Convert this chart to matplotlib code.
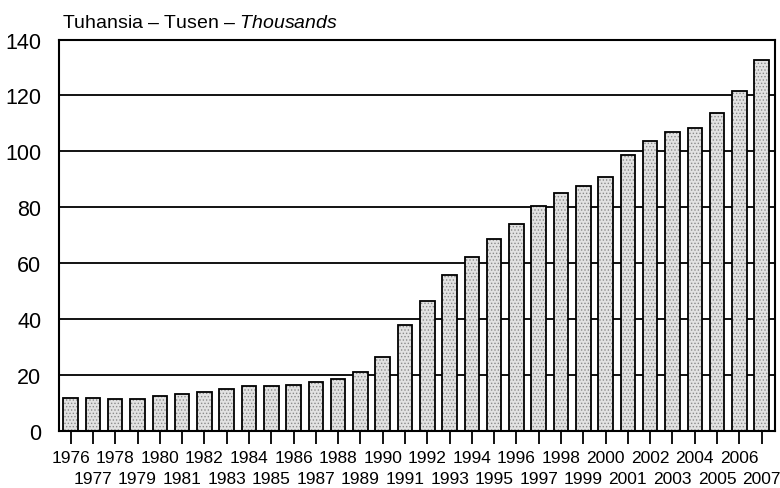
import matplotlib
matplotlib.use("Agg")
import matplotlib.pyplot as plt

# Data
years = list(range(1976, 2008))
values = [11.8, 11.8, 11.4, 11.4, 12.3, 13.2, 13.9, 15.0, 16.1, 16.1, 16.4, 17.5,
          18.5, 20.9, 26.4, 37.8, 46.5, 55.9, 62.2, 68.8, 74.1, 80.4, 85.0, 87.6,
          90.9, 98.6, 103.6, 106.8, 108.4, 113.8, 121.6, 132.7]
yticks = [0, 20, 40, 60, 80, 100, 120, 140]
title = "Tuhansia – Tusen – $\\it{Thousands}$"

plt.rcParams['font.family'] = ['Liberation Sans', 'DejaVu Sans']
plt.rcParams['mathtext.fontset'] = 'custom'
plt.rcParams['mathtext.it'] = 'Liberation Sans:italic'
plt.rcParams['hatch.linewidth'] = 0.6

fig = plt.figure(figsize=(7.8, 4.89), dpi=100)
ax = fig.add_axes([0.076, 0.117, 0.9176, 0.8])

# gridlines behind the bars
for v in yticks[1:-1]:
    ax.axhline(v, color='black', lw=1.3, zorder=1)

# stippled fill, then black outline
ax.bar(years, values, width=0.65, color='#e2e2e2', edgecolor='#8a8a8a',
       hatch='.....', lw=0, zorder=2)
ax.bar(years, values, width=0.65, fill=False, edgecolor='black', lw=1.3, zorder=3)

ax.set_xlim(1975.49, 2007.6)
ax.set_ylim(0, 140)
ax.set_yticks(yticks)
ax.set_yticklabels([str(v) for v in yticks], fontsize=15.5)
ax.tick_params(axis='y', length=0, pad=13)

# even years on the first row, odd years on the second
even = [y for y in years if y % 2 == 0]
odd = [y for y in years if y % 2 == 1]
ax.set_xticks(even)
ax.set_xticklabels([str(y) for y in even], fontsize=12.5)
ax.set_xticks(odd, minor=True)
ax.set_xticklabels([str(y) for y in odd], minor=True, fontsize=12.5)
ax.tick_params(axis='x', which='major', direction='out', length=9, width=1.3, pad=5)
ax.tick_params(axis='x', which='minor', direction='out', length=9, width=1.3, pad=20)

for s in ax.spines.values():
    s.set_linewidth(1.5)

fig.text(0.0795, 0.943, title, fontsize=14, ha='left', va='baseline')

fig.savefig("out.png", dpi=100)
